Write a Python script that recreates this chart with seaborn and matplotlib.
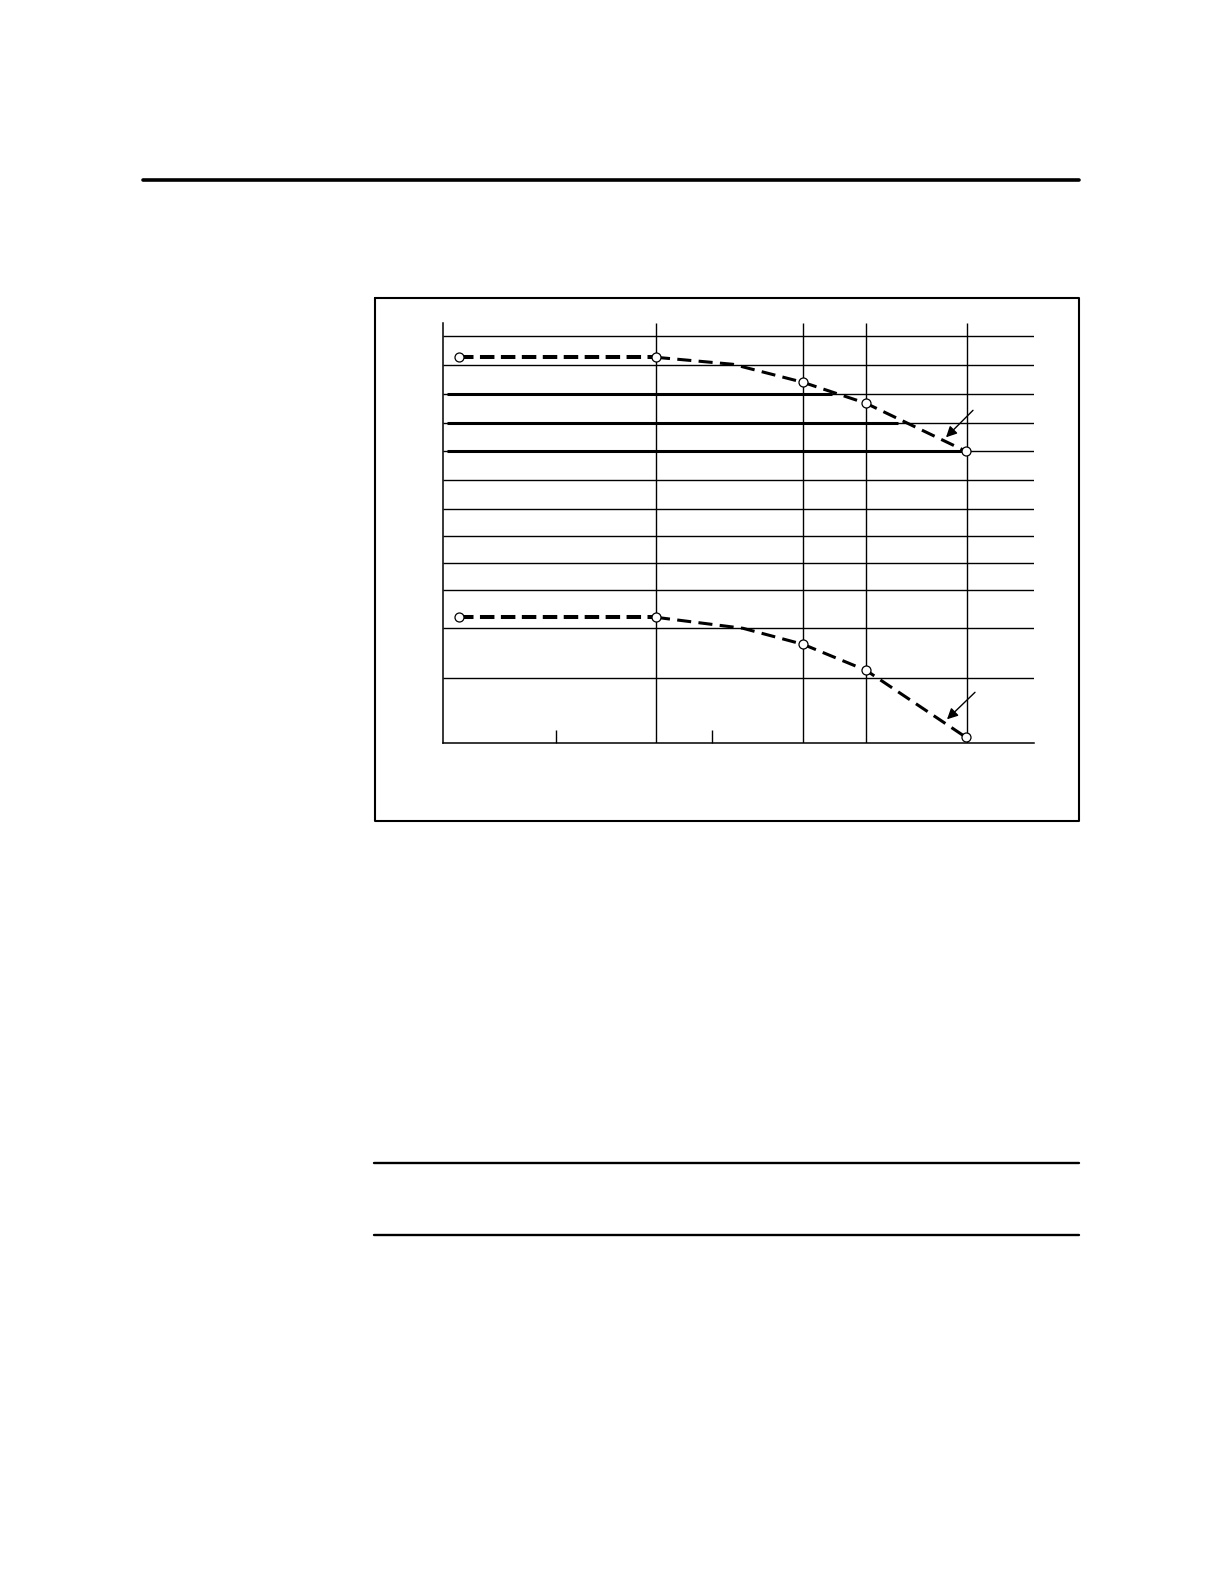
import numpy as np
import pandas as pd
import matplotlib
matplotlib.use('Agg')
import matplotlib.pyplot as plt
import seaborn as sns

# --- data (chart units: x from left axis, y from bottom axis) ---
grid_x = [213, 360, 423, 524]
minor_ticks_x = [113, 269]
grid_y = [65, 115, 153, 180, 207, 234, 263, 292, 320, 349, 378, 407]
heavy_y = [349, 320, 292]
heavy_end_x = [389, 455, 524]

upper_x = [16, 213, 290, 360, 423, 523]
upper_y = [386, 386, 379, 361, 340, 292]
upper_marked = [True, True, False, True, True, True]

lower_x = [16, 213, 300, 360, 423, 523]
lower_y = [126, 126, 115, 99, 73, 6]
lower_marked = [True, True, False, True, True, True]

# arrows: (tail x, tail y, head x, head y)
arrows = [(530, 333, 503, 306), (532, 51, 504, 24)]

upper = pd.DataFrame({'x': upper_x, 'y': upper_y, 'marked': upper_marked})
lower = pd.DataFrame({'x': lower_x, 'y': lower_y, 'marked': lower_marked})

sns.set_style('white')
W, H = 1224, 1584
fig = plt.figure(figsize=(W / 100, H / 100), dpi=100)

# page decorations (pixel coords)
deco = fig.add_axes([0, 0, 1, 1], zorder=0)
deco.set_xlim(0, W)
deco.set_ylim(H, 0)
deco.axis('off')
deco.plot([143, 1079], [180, 180], color='black', lw=2.6, solid_capstyle='round')
deco.plot([375, 1078.5, 1078.5, 375, 375], [297.5, 297.5, 821, 821, 297.5],
          color='black', lw=1.5)
for yy in [1163, 1235]:
    deco.plot([374, 1079], [yy, yy], color='black', lw=1.7)

# chart area: left 443, right 1034, top 322.7, bottom 743.3 px
ax = fig.add_axes([443 / W, (H - 743.3) / H, 591 / W, 420.6 / H], zorder=1)
ax.patch.set_alpha(0)
ax.set_xlim(0, 591)
ax.set_ylim(0, 420.6)

# grid
ax.hlines(grid_y, 0, 591, color='black', lw=1.0)
ax.vlines(grid_x, 0, 420.6, color='black', lw=1.0)
ax.hlines(heavy_y, 4, heavy_end_x, color='black', lw=2.2)

# curves
for df in (upper, lower):
    flat = df.iloc[:2]
    curve = df.iloc[1:]
    sns.lineplot(data=flat, x='x', y='y', ax=ax, color='black', lw=2.9,
                 linestyle=(0, (3.6, 1.6)), sort=False, zorder=3)
    sns.lineplot(data=curve, x='x', y='y', ax=ax, color='black', lw=2.2,
                 linestyle=(0, (4.6, 2.4)), sort=False, zorder=3)
    pts = df[df['marked']]
    sns.scatterplot(data=pts, x='x', y='y', ax=ax, s=42, facecolor='white',
                    edgecolor='black', linewidth=0.9, zorder=5, clip_on=False)

for tx, ty, hx, hy in arrows:
    ax.annotate('', xy=(hx, hy), xytext=(tx, ty),
                arrowprops=dict(arrowstyle='-|>', color='black', lw=1.0,
                                mutation_scale=16, shrinkA=0, shrinkB=0))

# axes styling
for s in ['top', 'right']:
    ax.spines[s].set_visible(False)
for s in ['left', 'bottom']:
    ax.spines[s].set_linewidth(1.1)
    ax.spines[s].set_color('black')
ax.set_xticks(minor_ticks_x)
ax.set_xticklabels([])
ax.set_yticks([])
ax.tick_params(axis='x', bottom=True, direction='in', length=9.4, width=1.0,
               color='black')
ax.set_xlabel('')
ax.set_ylabel('')

fig.savefig('out.png', dpi=100)
